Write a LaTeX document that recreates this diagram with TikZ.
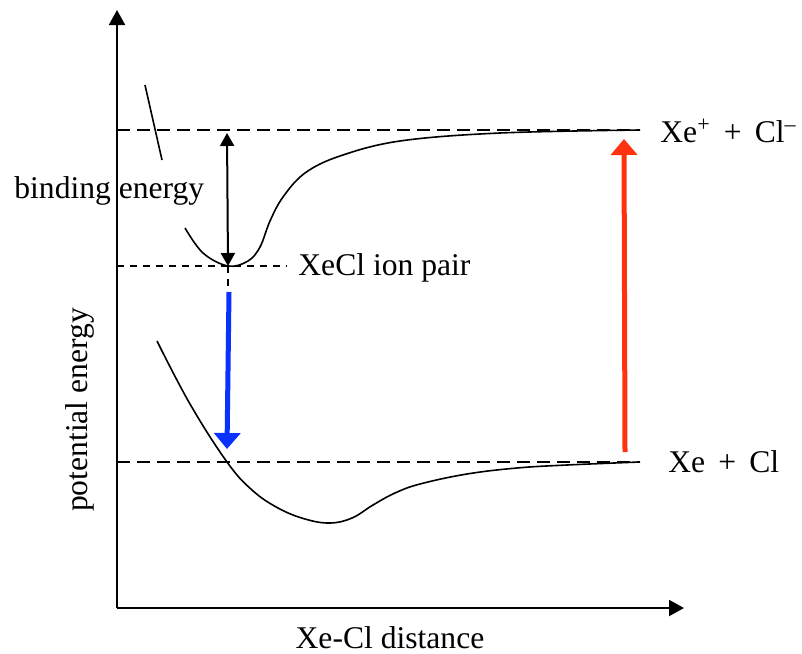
\documentclass[tikz,border=0pt]{standalone}
\usepackage{fontspec}
\setmainfont{Liberation Serif}
\usetikzlibrary{arrows.meta}
\definecolor{emis}{HTML}{0A32FF}
\definecolor{absb}{HTML}{FF3210}
\tikzset{
  axis/.style={-{Triangle[length=7.5pt, width=8pt]}, line width=1pt},
  level/.style={dash pattern=on 6.5pt off 3.5pt, line width=0.75pt},
  fine/.style={dash pattern=on 3.5pt off 3pt, line width=0.75pt},
  curve/.style={line width=0.8pt},
  lbl/.style={font=\fontsize{15.8}{19}\selectfont, inner sep=0pt},
  transit/.style={-{Triangle[length=8pt, width=13pt]}, line width=2.5pt, draw=#1},
}

\begin{document}
\begin{tikzpicture}[x=0.5pt, y=-0.5pt]
\useasboundingbox (0,0) rectangle (802,653);

% axes
\coordinate (o) at (117,608);
\coordinate (ytop) at (117,10);
\coordinate (xend) at (684,608);
\draw[axis] (o) -- (ytop);
\draw[axis] (o) -- (xend);

% levels
\coordinate (ion l) at (117,130);
\coordinate (ion r) at (640,130);
\coordinate (atm l) at (117,462);
\coordinate (atm r) at (640,462);
\coordinate (pair l) at (117,266);
\coordinate (pair min) at (228,266);
\coordinate (pair r) at (287,266);
\draw[level] (ion l) -- (ion r);
\draw[level] (atm l) -- (atm r);
\draw[fine] (pair l) -- (pair r);
\draw[fine] (pair min) -- (228,296);

% potential curves
\draw[curve] plot[smooth, tension=0.6] coordinates {(185,228) (203,253) (228,266) (248,261) (260,247) (270,221) (283,197) (305,173) (340,156) (400,141) (500,133) (640,130)};
\draw[curve] plot[smooth, tension=0.65] coordinates {(157,341) (190,404) (227,462) (252,490) (278,508) (305,519) (330,523) (352,518) (373,505) (395,493) (420,484) (467,474) (517,468) (567,465) (640,462)};
\draw[curve] (145,85) -- (162,160);

% transitions
\draw[{Triangle[length=6.5pt, width=7pt]}-{Triangle[length=6.5pt, width=7pt]}, line width=1pt] (227,133) -- (pair min);
\draw[transit=emis] (229,292) -- (227,449);
\draw[transit=absb] (625,452) -- (624,139);

% labels
\node[lbl, anchor=west] (bind) at (14,191) {binding energy};
\node[lbl, anchor=west] (pair) at (298,268) {XeCl ion pair};
\node[lbl, anchor=west] (ions) at (660,131) {Xe\textsuperscript{+} \,+\, Cl\textsuperscript{–}};
\node[lbl, anchor=west] (atoms) at (668,462) {Xe \,+\, Cl};
\node[lbl, rotate=90] (yl) at (80,410) {potential energy};
\node[lbl] (xl) at (390,638) {Xe-Cl distance};
\end{tikzpicture}
\end{document}
